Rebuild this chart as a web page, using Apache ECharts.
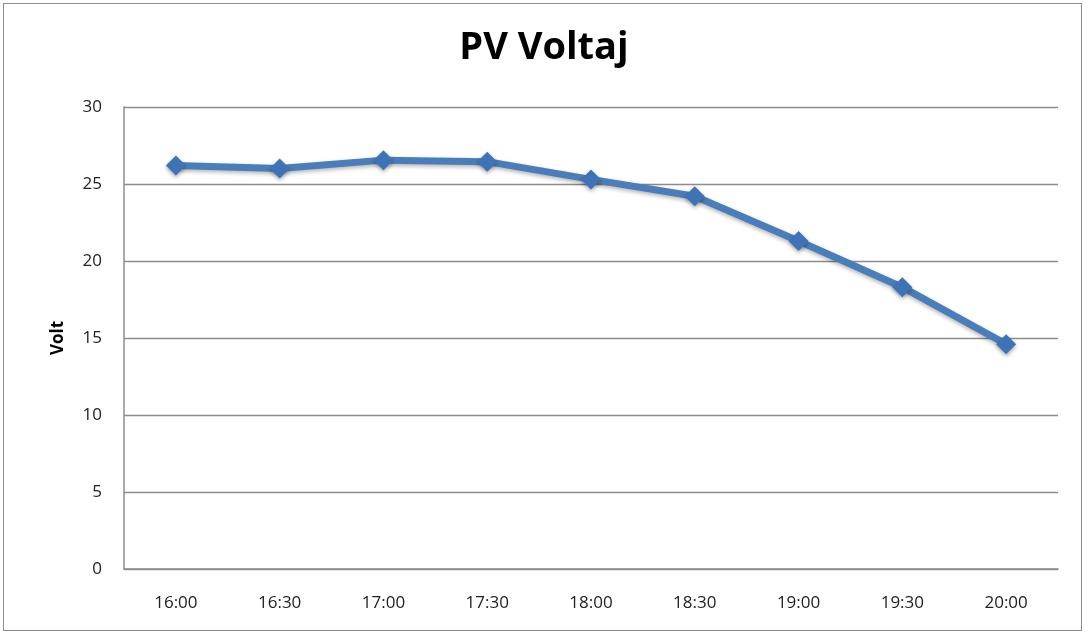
<!DOCTYPE html>
<html>
<head>
<meta charset="utf-8">
<script src="https://cdn.jsdelivr.net/npm/echarts@6/dist/echarts.min.js"></script>
<style>
    html, body { margin: 0; padding: 0; background: #fff; }
    #frame { position: absolute; left: 3px; top: 3px; width: 1079px; height: 628px; border: 1px solid #8c8c8c; box-sizing: border-box; }
    #chart { position: absolute; left: 0; top: 0; width: 1088px; height: 637px; }
</style>
</head>
<body>
<div id="frame"></div>
<div id="chart"></div>
<script>
    var times = ['16:00', '16:30', '17:00', '17:30', '18:00', '18:30', '19:00', '19:30', '20:00'];
    var voltage = [26.2, 26.0, 26.55, 26.45, 25.3, 24.2, 21.3, 18.3, 14.6];
    var yTicks = { min: 0, max: 30, interval: 5 };

    var chart = echarts.init(document.getElementById('chart'));
    chart.setOption({
        animation: false,
        title: {
            text: 'PV Voltaj',
            left: 'center',
            top: 24,
            textStyle: { fontFamily: 'Open Sans', fontSize: 38, fontWeight: 'bold', color: '#000' }
        },
        grid: { left: 124, right: 30, top: 107, bottom: 68 },
        xAxis: {
            type: 'category',
            data: times,
            axisLine: { lineStyle: { color: '#8c8c8c', width: 1.5 } },
            axisTick: { show: false },
            axisLabel: { margin: 26, fontFamily: 'Open Sans', fontSize: 17, color: '#222' }
        },
        yAxis: {
            type: 'value',
            min: yTicks.min,
            max: yTicks.max,
            interval: yTicks.interval,
            name: 'Volt',
            nameLocation: 'middle',
            nameGap: 57,
            nameTextStyle: { fontFamily: 'Open Sans', fontSize: 17, fontWeight: 'bold', color: '#000' },
            axisLine: { show: true, lineStyle: { color: '#8c8c8c', width: 1.5 } },
            axisTick: { show: false },
            axisLabel: { margin: 22, fontFamily: 'Open Sans', fontSize: 17, color: '#222' },
            splitLine: { lineStyle: { color: '#8c8c8c', width: 1.3 } }
        },
        series: [
            {
                name: 'Volt',
                type: 'line',
                data: voltage,
                symbol: 'diamond',
                symbolSize: 20,
                lineStyle: { color: '#4a7ebb', width: 7, shadowColor: 'rgba(0,0,0,0.3)', shadowBlur: 4, shadowOffsetY: 2 },
                itemStyle: { color: '#3f73b8', shadowColor: 'rgba(0,0,0,0.35)', shadowBlur: 4, shadowOffsetY: 2 }
            }
        ]
    });
</script>
</body>
</html>
